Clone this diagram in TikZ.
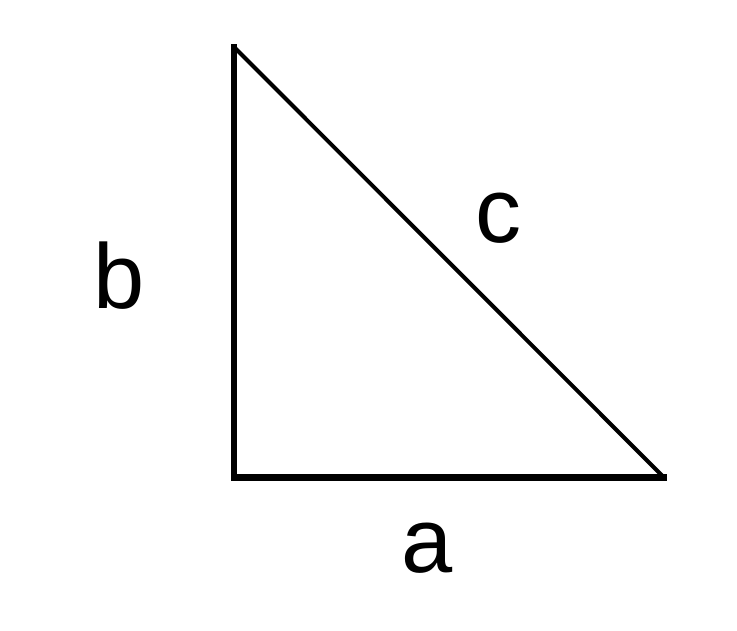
\documentclass[tikz,border=0pt]{standalone}
\usepackage{fontspec}
\setmainfont{Liberation Sans}
\begin{document}
\begin{tikzpicture}[x=1pt,y=-1pt,
  leg/.style={line width=6.5pt,line cap=rect,line join=miter},
  hyp/.style={line width=4pt},
  lbl/.style={inner sep=0pt,font=\fontsize{92}{92}\selectfont}]
\useasboundingbox[fill=white] (0,0) rectangle (737,631);
\coordinate (T) at (234,47);
\coordinate (L) at (234,477.5);
\coordinate (R) at (664,477.5);
\draw[leg] (T) -- (L) -- (R);
\draw[hyp] (T) -- (R);
\node[lbl] (a) at (427,548) {a};
\node[lbl] (b) at (119,276) {b};
\node[lbl] (c) at (498,218) {c};
\end{tikzpicture}
\end{document}
